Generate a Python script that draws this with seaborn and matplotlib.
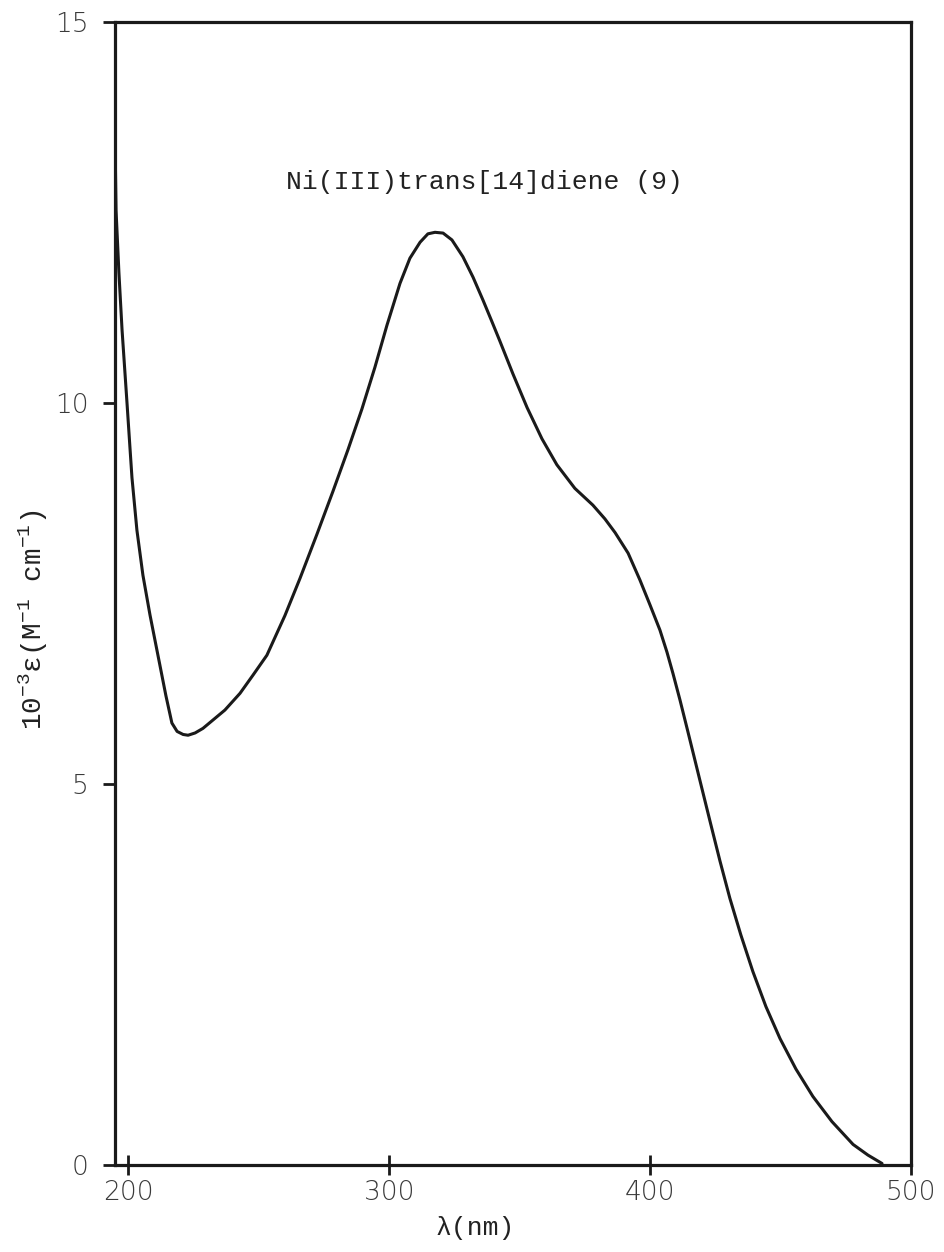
import matplotlib
matplotlib.use("Agg")
import matplotlib.pyplot as plt
import seaborn as sns
import pandas as pd

# Data (wavelength in nm, 10^-3 * epsilon)
wavelength_nm = [195.1, 195.4, 196.5, 197.7, 199.6, 200.7, 201.5, 203.4, 205.7, 208.4,
                 210.3, 212.2, 214.5, 216.8, 218.8, 221.1, 223.0, 225.7, 228.7, 232.2,
                 237.1, 242.9, 247.9, 253.2, 260.1, 265.9, 272.4, 278.5, 284.3, 289.6,
                 294.6, 299.2, 304.2, 308.0, 311.9, 314.9, 317.6, 320.7, 324.1, 328.3,
                 332.2, 336.0, 339.4, 342.5, 347.5, 352.9, 358.6, 364.3, 371.2, 378.1,
                 382.7, 386.6, 391.6, 396.1, 400.0, 403.8, 406.5, 408.8, 411.5, 414.2,
                 416.8, 419.1, 423.0, 426.8, 430.6, 434.8, 439.4, 444.4, 449.8, 455.9,
                 462.4, 469.7, 477.8, 483.5, 488.9]
epsilon_1e3 = [13.25, 12.53, 11.71, 10.96, 10.00, 9.43, 9.02, 8.33, 7.74, 7.22,
               6.89, 6.56, 6.16, 5.80, 5.69, 5.65, 5.64, 5.67, 5.73, 5.83,
               5.97, 6.19, 6.43, 6.69, 7.21, 7.70, 8.28, 8.84, 9.39, 9.92,
               10.47, 11.02, 11.57, 11.90, 12.11, 12.22, 12.24, 12.23, 12.14, 11.92,
               11.65, 11.35, 11.07, 10.81, 10.38, 9.94, 9.53, 9.19, 8.88, 8.66,
               8.48, 8.30, 8.03, 7.68, 7.35, 7.02, 6.73, 6.45, 6.10, 5.73,
               5.37, 5.05, 4.51, 3.99, 3.50, 3.02, 2.54, 2.08, 1.66, 1.26,
               0.90, 0.57, 0.27, 0.13, 0.02]

x_ticks = [200, 300, 400, 500]
x_tick_labels = ["200", "300", "400", "500"]
y_ticks = [0, 5, 10, 15]
y_tick_labels = ["0", "5", "10", "15"]

title_text = "Ni(III)trans[14]diene (9)"
x_label = "λ(nm)"
y_label = r"10$^{-3}$ε(M$^{-1}$ cm$^{-1}$)"

sns.set_theme(style="white")
plt.rcParams["mathtext.fontset"] = "custom"
plt.rcParams["mathtext.rm"] = "Liberation Mono"
plt.rcParams["mathtext.it"] = "Liberation Mono"
plt.rcParams["mathtext.default"] = "rm"

df = pd.DataFrame({"wavelength": wavelength_nm, "eps": epsilon_1e3})

fig = plt.figure(figsize=(9.44, 12.52), dpi=100)
ax = fig.add_axes([115 / 944, 1 - 1165 / 1252, 796 / 944, 1143 / 1252])

sns.lineplot(data=df, x="wavelength", y="eps", ax=ax, color="#1a1a1a",
             linewidth=2.2, sort=False, estimator=None)
ax.lines[0].set_solid_joinstyle("round")
ax.lines[0].set_solid_capstyle("round")

ax.set_xlim(195, 500)
ax.set_ylim(0, 15)

for s in ax.spines.values():
    s.set_visible(True)
    s.set_color("#1a1a1a")
    s.set_linewidth(2.3)

ax.set_xticks(x_ticks)
ax.set_xticklabels(x_tick_labels)
ax.set_yticks(y_ticks)
ax.set_yticklabels(y_tick_labels)

ax.tick_params(axis="y", direction="out", length=9, width=2, color="#1a1a1a",
               labelsize=19, labelcolor="#3a3a3a", pad=10, left=True)
ax.tick_params(axis="x", direction="inout", length=14, width=2, color="#1a1a1a",
               labelsize=19, labelcolor="#3a3a3a", pad=4, bottom=True)
for lab in ax.get_xticklabels() + ax.get_yticklabels():
    lab.set_fontfamily("DejaVu Sans")
    lab.set_fontweight("light")

ax.set_xlabel(x_label, fontsize=19, family=["Liberation Mono", "DejaVu Sans"],
              color="#222222")
ax.xaxis.set_label_coords(0.453, -0.045)
ax.set_ylabel(y_label, fontsize=20, family=["Liberation Mono", "DejaVu Sans"],
              color="#222222")
ax.yaxis.set_label_coords(-0.082, 0.477)

ax.text(0.4636, 0.86, title_text, transform=ax.transAxes, ha="center",
        va="center", fontsize=19, family=["Liberation Mono", "DejaVu Sans"],
        color="#222222")

fig.savefig("out.png", dpi=100, facecolor="white")
